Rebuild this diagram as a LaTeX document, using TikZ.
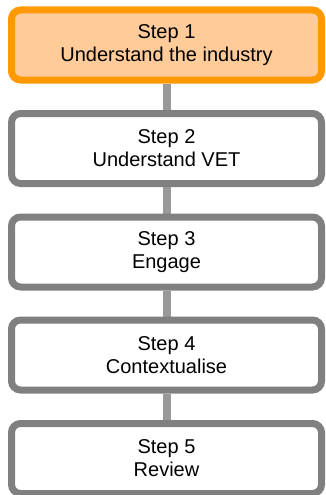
\documentclass[tikz,border=0pt]{standalone}
\usepackage{fontspec}
\setmainfont{Liberation Sans}
\usetikzlibrary{backgrounds}
\definecolor{stepfill}{HTML}{FFCC99}
\definecolor{steporange}{HTML}{FF9900}
\definecolor{stepgray}{HTML}{808080}
\definecolor{linkgray}{HTML}{999999}
\tikzset{
  stepbox/.style={draw=stepgray, line width=7pt, rounded corners=9pt, fill=white,
    minimum width=310pt, minimum height=70pt, inner sep=0pt, align=center,
    font=\fontsize{20}{23}\selectfont},
  firstbox/.style={stepbox, draw=steporange, fill=stepfill},
  link/.style={draw=linkgray, line width=8pt}
}
\begin{document}
\begin{tikzpicture}[x=1pt,y=-1pt]
\useasboundingbox (0,0) rectangle (325,495);
\node[firstbox] (s1) at (166.5,45) {Step 1\\Understand the industry};
\node[stepbox] (s2) at (166.5,148.5) {Step 2\\Understand VET};
\node[stepbox] (s3) at (166.5,252) {Step 3\\Engage};
\node[stepbox] (s4) at (166.5,355) {Step 4\\Contextualise};
\node[stepbox] (s5) at (166.5,458.5) {Step 5\\Review};
% connectors behind the boxes
\begin{scope}[on background layer]
\draw[link] (s1) -- (s2);
\draw[link] (s2) -- (s3);
\draw[link] (s3) -- (s4);
\draw[link] (s4) -- (s5);
\end{scope}
\end{tikzpicture}
\end{document}
